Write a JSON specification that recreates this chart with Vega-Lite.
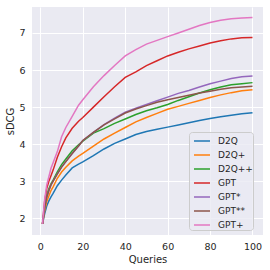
{
  "$schema": "https://vega.github.io/schema/vega-lite/v6.json",
  "width": 231,
  "height": 228,
  "autosize": {"type": "none"},
  "padding": {"left": 32, "top": 7, "right": 7, "bottom": 35},
  "background": "white",
  "config": {
    "font": "DejaVu Sans",
    "view": {"fill": "#EAEAF2", "stroke": null},
    "axis": {
      "domain": false,
      "ticks": false,
      "gridColor": "white",
      "gridWidth": 1,
      "labelColor": "#262626",
      "titleColor": "#262626",
      "labelFont": "DejaVu Sans",
      "titleFont": "DejaVu Sans",
      "titleFontWeight": "normal",
      "labelFontSize": 9.5,
      "titleFontSize": 10
    }
  },
  "data": {
    "values": [
      {"q": 1, "D2Q": 1.85, "D2Q+": 1.85, "D2Q++": 1.85, "GPT": 1.85, "GPT*": 1.85, "GPT**": 1.85, "GPT+": 1.85},
      {"q": 2, "D2Q": 2.12, "D2Q+": 2.2, "D2Q++": 2.3, "GPT": 2.45, "GPT*": 2.28, "GPT**": 2.28, "GPT+": 2.5},
      {"q": 3, "D2Q": 2.33, "D2Q+": 2.45, "D2Q++": 2.62, "GPT": 2.8, "GPT*": 2.57, "GPT**": 2.57, "GPT+": 2.9},
      {"q": 4, "D2Q": 2.47, "D2Q+": 2.6, "D2Q++": 2.8, "GPT": 3.0, "GPT*": 2.75, "GPT**": 2.75, "GPT+": 3.12},
      {"q": 5, "D2Q": 2.58, "D2Q+": 2.75, "D2Q++": 2.93, "GPT": 3.15, "GPT*": 2.9, "GPT**": 2.9, "GPT+": 3.35},
      {"q": 6, "D2Q": 2.67, "D2Q+": 2.85, "D2Q++": 3.03, "GPT": 3.3, "GPT*": 3.0, "GPT**": 3.0, "GPT+": 3.5},
      {"q": 8, "D2Q": 2.88, "D2Q+": 3.08, "D2Q++": 3.25, "GPT": 3.65, "GPT*": 3.2, "GPT**": 3.2, "GPT+": 3.8},
      {"q": 10, "D2Q": 3.03, "D2Q+": 3.25, "D2Q++": 3.45, "GPT": 3.93, "GPT*": 3.38, "GPT**": 3.38, "GPT+": 4.2},
      {"q": 12, "D2Q": 3.17, "D2Q+": 3.38, "D2Q++": 3.6, "GPT": 4.17, "GPT*": 3.53, "GPT**": 3.53, "GPT+": 4.45},
      {"q": 15, "D2Q": 3.36, "D2Q+": 3.55, "D2Q++": 3.82, "GPT": 4.43, "GPT*": 3.75, "GPT**": 3.75, "GPT+": 4.75},
      {"q": 18, "D2Q": 3.46, "D2Q+": 3.68, "D2Q++": 3.98, "GPT": 4.62, "GPT*": 3.95, "GPT**": 3.95, "GPT+": 5.05},
      {"q": 20, "D2Q": 3.52, "D2Q+": 3.75, "D2Q++": 4.08, "GPT": 4.72, "GPT*": 4.1, "GPT**": 4.1, "GPT+": 5.2},
      {"q": 25, "D2Q": 3.69, "D2Q+": 3.95, "D2Q++": 4.3, "GPT": 5.0, "GPT*": 4.32, "GPT**": 4.32, "GPT+": 5.55},
      {"q": 30, "D2Q": 3.87, "D2Q+": 4.14, "D2Q++": 4.42, "GPT": 5.28, "GPT*": 4.53, "GPT**": 4.52, "GPT+": 5.85},
      {"q": 35, "D2Q": 4.02, "D2Q+": 4.3, "D2Q++": 4.56, "GPT": 5.55, "GPT*": 4.7, "GPT**": 4.68, "GPT+": 6.12},
      {"q": 40, "D2Q": 4.14, "D2Q+": 4.45, "D2Q++": 4.68, "GPT": 5.8, "GPT*": 4.86, "GPT**": 4.84, "GPT+": 6.38},
      {"q": 45, "D2Q": 4.26, "D2Q+": 4.6, "D2Q++": 4.8, "GPT": 5.95, "GPT*": 4.97, "GPT**": 4.95, "GPT+": 6.55},
      {"q": 50, "D2Q": 4.34, "D2Q+": 4.72, "D2Q++": 4.9, "GPT": 6.12, "GPT*": 5.07, "GPT**": 5.04, "GPT+": 6.7},
      {"q": 55, "D2Q": 4.4, "D2Q+": 4.83, "D2Q++": 4.98, "GPT": 6.25, "GPT*": 5.17, "GPT**": 5.13, "GPT+": 6.8},
      {"q": 60, "D2Q": 4.46, "D2Q+": 4.94, "D2Q++": 5.07, "GPT": 6.38, "GPT*": 5.27, "GPT**": 5.2, "GPT+": 6.9},
      {"q": 65, "D2Q": 4.52, "D2Q+": 5.02, "D2Q++": 5.18, "GPT": 6.48, "GPT*": 5.37, "GPT**": 5.26, "GPT+": 7.0},
      {"q": 70, "D2Q": 4.58, "D2Q+": 5.1, "D2Q++": 5.28, "GPT": 6.57, "GPT*": 5.45, "GPT**": 5.32, "GPT+": 7.1},
      {"q": 75, "D2Q": 4.64, "D2Q+": 5.18, "D2Q++": 5.38, "GPT": 6.65, "GPT*": 5.54, "GPT**": 5.38, "GPT+": 7.2},
      {"q": 80, "D2Q": 4.69, "D2Q+": 5.26, "D2Q++": 5.47, "GPT": 6.73, "GPT*": 5.63, "GPT**": 5.43, "GPT+": 7.28},
      {"q": 85, "D2Q": 4.74, "D2Q+": 5.33, "D2Q++": 5.54, "GPT": 6.79, "GPT*": 5.7, "GPT**": 5.48, "GPT+": 7.34},
      {"q": 90, "D2Q": 4.78, "D2Q+": 5.39, "D2Q++": 5.6, "GPT": 6.84, "GPT*": 5.77, "GPT**": 5.52, "GPT+": 7.38},
      {"q": 95, "D2Q": 4.82, "D2Q+": 5.44, "D2Q++": 5.63, "GPT": 6.87, "GPT*": 5.82, "GPT**": 5.54, "GPT+": 7.4},
      {"q": 100, "D2Q": 4.85, "D2Q+": 5.47, "D2Q++": 5.66, "GPT": 6.88, "GPT*": 5.84, "GPT**": 5.56, "GPT+": 7.42}
    ]
  },
  "transform": [
    {"fold": ["D2Q", "D2Q+", "D2Q++", "GPT", "GPT*", "GPT**", "GPT+"], "as": ["series", "value"]}
  ],
  "mark": {"type": "line", "strokeWidth": 1.5, "clip": true},
  "encoding": {
    "x": {
      "field": "q", "type": "quantitative",
      "scale": {"domain": [-3.95, 104.95], "nice": false, "zero": false},
      "axis": {"values": [0, 20, 40, 60, 80, 100], "title": "Queries", "labelPadding": 6, "titlePadding": 4}
    },
    "y": {
      "field": "value", "type": "quantitative",
      "scale": {"domain": [1.55, 7.7], "nice": false, "zero": false},
      "axis": {"values": [2, 3, 4, 5, 6, 7], "title": "sDCG", "labelPadding": 7, "titlePadding": 3}
    },
    "color": {
      "field": "series", "type": "nominal",
      "scale": {
        "domain": ["D2Q", "D2Q+", "D2Q++", "GPT", "GPT*", "GPT**", "GPT+"],
        "range": ["#1f77b4", "#ff7f0e", "#2ca02c", "#d62728", "#9467bd", "#8c564b", "#e377c2"]
      },
      "legend": {
        "title": null,
        "orient": "none",
        "legendX": 157,
        "legendY": 125,
        "symbolType": "stroke",
        "symbolSize": 256,
        "symbolStrokeWidth": 1.5,
        "symbolOffset": 4,
        "labelFontSize": 9,
        "labelFont": "DejaVu Sans",
        "labelColor": "#262626",
        "labelOffset": 7,
        "rowPadding": -2.4,
        "columnPadding": 0,
        "padding": 0,
        "fillColor": "rgba(234,234,242,0.8)",
        "strokeColor": "#CCCCCC",
        "cornerRadius": 3
      }
    }
  }
}
